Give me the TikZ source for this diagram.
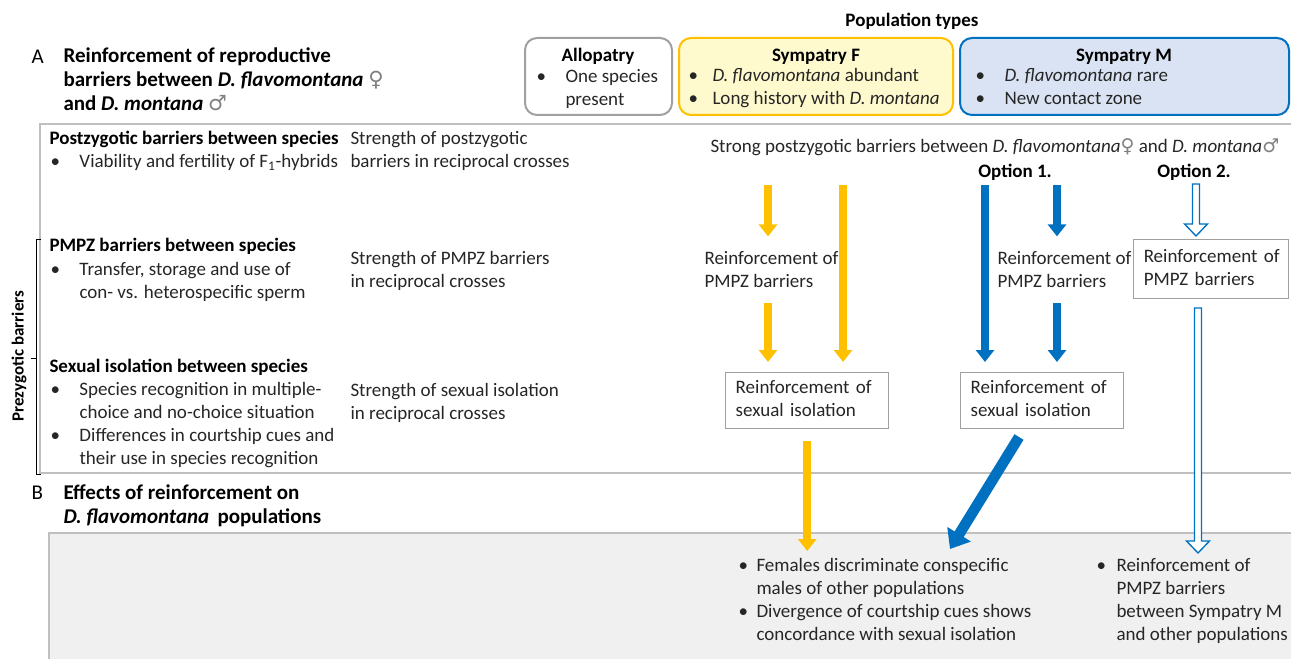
\documentclass[tikz,border=0pt]{standalone}
\usepackage{fontspec}
\setmainfont{Carlito}
\newfontfamily\sexsymfont{DejaVu Sans}
\usetikzlibrary{arrows.meta,calc}

\definecolor{sympF}{RGB}{255,192,0}
\definecolor{sympFfill}{RGB}{255,250,205}
\definecolor{sympM}{RGB}{0,112,192}
\definecolor{sympMfill}{RGB}{218,227,243}
\definecolor{frameGrey}{RGB}{191,191,191}
\definecolor{boxGrey}{RGB}{160,160,160}
\definecolor{panelGrey}{RGB}{240,240,240}
\definecolor{txtGrey}{RGB}{38,38,38}

\newcommand{\femsym}{{\sexsymfont\color{gray}♀}}
\newcommand{\malsym}{{\sexsymfont\color{gray}♂}}
\newcommand{\twolines}[1]{\begin{tabular}[t]{@{}l@{}}#1\end{tabular}}
\newcommand{\bulletrows}[2]{\begin{tabular}[t]{@{}p{#1}@{}l@{}}#2\end{tabular}}
% hollow arrow pointing down, from #1 to tip #2
\newcommand{\hollowdown}[2]{%
  \draw [hollowArrow] ($(#1)+(-3.5,0)$) -- ($(#2)+(-3.5,-12)$) -- ($(#2)+(-11.5,-12)$) -- (#2)
    -- ($(#2)+(11.5,-12)$) -- ($(#2)+(3.5,-12)$) -- ($(#1)+(3.5,0)$) -- cycle ;}

\tikzset{every picture/.style={line width=0.75pt}}
\tikzset{
  bodyTxt/.style={font=\fontsize{14.25}{17.25}\selectfont, text=txtGrey, inner sep=0.75pt},
  headTxt/.style={font=\fontsize{14.25}{17.25}\selectfont\bfseries, inner sep=0.75pt},
  titleTxt/.style={font=\fontsize{15.75}{18}\selectfont\bfseries, inner sep=0.75pt},
  letterTxt/.style={font=\fontsize{15.75}{18}\selectfont, inner sep=0.75pt},
  popBox/.style={rounded corners=9pt, line width=1.5pt},
  reinBox/.style={bodyTxt, draw=boxGrey, line width=1.1pt, inner xsep=7.5pt, inner ysep=3pt, align=left, anchor=north west},
  yArrow/.style={draw=sympF, line width=6pt, -{Triangle[length=9pt,width=13.5pt]}},
  bArrow/.style={draw=sympM, line width=6pt, -{Triangle[length=9pt,width=13.5pt]}},
  hollowArrow/.style={draw=sympM, line width=1pt, fill=white}
}

\begin{document}
\begin{tikzpicture}[x=0.75pt,y=0.75pt,yscale=-1,xscale=1]
\useasboundingbox (0,0) rectangle (1291,659);

%Shape: Rectangle [panel B]
\fill [panelGrey] (49,533) rectangle (1291,659);
\draw [frameGrey, line width=1.1pt] (1291,533) -- (49,533) -- (49,659);
%Shape: Rectangle [panel A]
\draw [frameGrey, line width=1.1pt] (1291,124) -- (40,124) -- (40,473) -- (1291,473);
%Straight Lines [bracket]
\draw (41,240) -- (36,240) -- (36,474) -- (41,474);
\draw (36,358) -- (31,358);

%Shape: Rounded Rect [population types]
\draw [popBox, draw=boxGrey] (525,38) rectangle (672,115);
\draw [popBox, draw=sympF, fill=sympFfill] (679,38) rectangle (953,115);
\draw [popBox, draw=sympM, fill=sympMfill] (960,38) rectangle (1289,115);

% Text Node
\draw (912,27) node [anchor=base][headTxt] (popTypes) {Population types};
% Text Node
\draw (598,62) node [anchor=base][headTxt] (alloHead) {Allopatry};
\draw (535,83) node [anchor=base west][bodyTxt] (alloList) {\bulletrows{21.75pt}{• & One species\\ & present}};
% Text Node
\draw (816,62) node [anchor=base][headTxt] (sympFHead) {Sympatry F};
\draw (687,82) node [anchor=base west][bodyTxt] (sympFList) {\bulletrows{18pt}{• & \textit{D. flavomontana} abundant\\• & Long history with \textit{D. montana}}};
% Text Node
\draw (1124,62) node [anchor=base][headTxt] (sympMHead) {Sympatry M};
\draw (974,82) node [anchor=base west][bodyTxt] (sympMList) {\bulletrows{21.75pt}{• & \textit{D. flavomontana} rare\\• & New contact zone}};

% Text Node
\draw (30,64) node [anchor=base west][letterTxt] (labA) {A};
\draw (62,63) node [anchor=base west][titleTxt] (titleA) {\twolines{Reinforcement of reproductive\\barriers between \textit{D. flavomontana} \femsym\\and \textit{D. montana} \malsym}};
% Text Node
\draw (30,499) node [anchor=base west][letterTxt] (labB) {B};
\draw (62,499) node [anchor=base west][titleTxt] (titleB) {\twolines{Effects of reinforcement on\\\textit{D. flavomontana}\ \,populations}};

% Text Node
\draw (48,145) node [anchor=base west][headTxt] (postHead) {Postzygotic barriers between species};
\draw (49,168) node [anchor=base west][bodyTxt] (postList) {\bulletrows{21.75pt}{• & Viability and fertility of F\textsubscript{1}-hybrids}};
\draw (349,145) node [anchor=base west][bodyTxt] (postStrength) {\twolines{Strength of postzygotic\\barriers in reciprocal crosses}};
% Text Node
\draw (48,252) node [anchor=base west][headTxt] (pmpzHead) {PMPZ barriers between species};
\draw (49,275) node [anchor=base west][bodyTxt] (pmpzList) {\bulletrows{21.75pt}{• & Transfer, storage and use of\\ & con- vs. heterospecific sperm}};
\draw (349,264) node [anchor=base west][bodyTxt] (pmpzStrength) {\twolines{Strength of PMPZ barriers\\in reciprocal crosses}};
% Text Node
\draw (48,372) node [anchor=base west][headTxt] (sexHead) {Sexual isolation between species};
\draw (49,395) node [anchor=base west][bodyTxt] (sexList) {\bulletrows{21.75pt}{• & Species recognition in multiple-\\ & choice and no-choice situation\\• & Differences in courtship cues and\\ & their use in species recognition}};
\draw (349,396) node [anchor=base west][bodyTxt] (sexStrength) {\twolines{Strength of sexual isolation\\in reciprocal crosses}};
% Text Node
\draw (19,356) node [rotate=90][headTxt, font=\fontsize{12.75}{15}\selectfont\bfseries] (prezyg) {Prezygotic barriers};

% Text Node
\draw (709,153) node [anchor=base west][bodyTxt] (strongPost) {Strong postzygotic barriers between \textit{D. flavomontana}\femsym{} and \textit{D. montana}\malsym};
\draw (1015,178) node [anchor=base][headTxt] (opt1) {Option 1.};
\draw (1194,178) node [anchor=base][headTxt] (opt2) {Option 2.};

% Text Node
\draw (703,264) node [anchor=base west][bodyTxt] (yPmpz) {\twolines{Reinforcement of\\PMPZ barriers}};
\draw (996,264) node [anchor=base west][bodyTxt] (bPmpz) {\twolines{Reinforcement of\\PMPZ barriers}};
%Shape: Rectangle
\draw (1133,239) node [reinBox, text width=101.25pt, minimum height=44.25pt] (oPmpz) {\twolines{Reinforcement of\\PMPZ barriers}};
\draw (725,372) node [reinBox, text width=107.25pt, minimum height=42pt] (ySex) {\twolines{Reinforcement of\\sexual isolation}};
\draw (960,372) node [reinBox, text width=107.25pt, minimum height=42pt] (bSex) {\twolines{Reinforcement of\\sexual isolation}};

% Text Node
\draw (737,571) node [anchor=base west][bodyTxt] (effSex) {\bulletrows{13.5pt}{• & Females discriminate conspecific\\ & males of other populations\\• & Divergence of courtship cues shows\\ & concordance with sexual isolation}};
\draw (1095,571) node [anchor=base west][bodyTxt] (effPmpz) {\bulletrows{15pt}{• & Reinforcement of\\ & PMPZ barriers\\ & between Sympatry M\\ & and other populations}};

%Straight Lines [yellow, Sympatry F]
\coordinate (ys1) at (768,185);
\coordinate (ys2) at (843,185);
\coordinate (yEnd) at (806,551);
\draw [yArrow, shorten >=7.5pt] (ys1) -- (ys1 |- yPmpz.north);
\draw [yArrow, shorten <=6pt, shorten >=7.5pt] (ys1 |- yPmpz.south) -- (ys1 |- ySex.north);
\draw [yArrow, shorten >=7.5pt] (ys2) -- (ys2 |- ySex.north);
\draw [yArrow, shorten <=9pt] (ySex.south) -- (ySex.south |- yEnd);

%Straight Lines [blue, option 1]
\coordinate (bs1) at (985,185);
\coordinate (bs2) at (1057,185);
\coordinate (bd1) at (1019,437);
\coordinate (bd2) at (950,549);
\draw [bArrow, shorten >=7.5pt] (bs1) -- (bs1 |- bSex.north);
\draw [bArrow, shorten >=7.5pt] (bs2) -- (bs2 |- bPmpz.north);
\draw [bArrow, shorten <=6pt, shorten >=7.5pt] (bs2 |- bPmpz.south) -- (bs2 |- bSex.north);
\draw [bArrow, line width=8pt, -{Triangle[length=13pt,width=20pt]}] (bd1) -- (bd2);

%Shape: Hollow arrows [option 2]
\coordinate (hs1) at (1196,184);
\coordinate (hTip1) at (1196,236);
\coordinate (hs2) at (1198,308);
\coordinate (hTip2) at (1198,553);
\hollowdown{hs1}{hTip1}
\hollowdown{hs2}{hTip2}

\end{tikzpicture}
\end{document}
